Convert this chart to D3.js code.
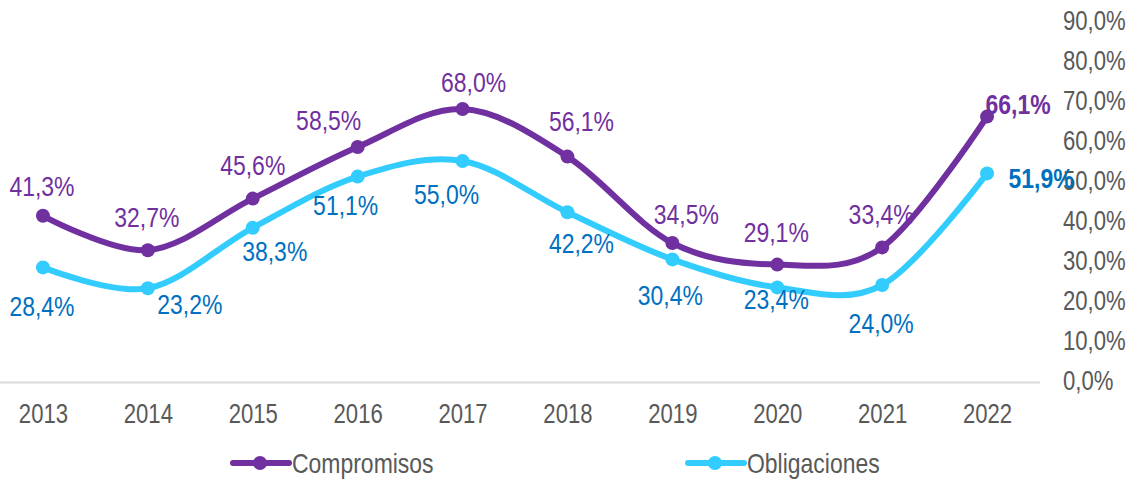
<!DOCTYPE html>
<html>
<head>
<meta charset="utf-8">
<script src="https://d3js.org/d3.v7.min.js"></script>
<style>
  body { margin: 0; background: #fff; }
  svg { display: block; font-family: "Liberation Sans", Arial, sans-serif; }
</style>
</head>
<body>
<svg width="1139" height="482"></svg>
<script>
var years = ["2013", "2014", "2015", "2016", "2017", "2018", "2019", "2020", "2021", "2022"];
var compromisos = [41.3, 32.7, 45.6, 58.5, 68.0, 56.1, 34.5, 29.1, 33.4, 66.1];
var obligaciones = [28.4, 23.2, 38.3, 51.1, 55.0, 42.2, 30.4, 23.4, 24.0, 51.9];
var yTicks = [0, 10, 20, 30, 40, 50, 60, 70, 80, 90];

// label offsets from the point centre (pixels)
var compDx = [-1, -1, 0, -29, 11, 14, 14, -1, -1, 31],
    compDy = [-30, -33, -33, -27, -27, -35, -29, -32, -33, -12];
var oblDx = [-1, 42, 22, -12, -16, 14, -2, -1, -1, 54],
    oblDy = [39, 16, 23, 29, 33, 31, 36, 12, 38, 5];

var purple = "#7030A0", cyan = "#33CCFF", blue = "#0070C0", grey = "#595959";
var narrow = "scale(0.82,1)"; // the original uses a narrow face

var svg = d3.select("svg");
var fmt = function(v) { return v.toFixed(1).replace(".", ",") + "%"; };

var x = d3.scalePoint().domain(years).range([-9.5, 1039.5]).padding(0.5),
    y = d3.scaleLinear().domain([0, 90]).range([381, 21]);

// X axis
var xAxis = svg.append("g")
    .attr("transform", "translate(0,382)")
    .call(d3.axisBottom(x).tickSize(0).tickPadding(22));
xAxis.select(".domain").attr("stroke", "#D9D9D9").attr("stroke-width", 2);
xAxis.selectAll("text")
    .attr("fill", grey)
    .attr("transform", narrow)
    .style("font-size", "27px")
    .style("font-family", "inherit");

// Y axis (right, labels left aligned)
var yAxis = svg.append("g")
    .attr("transform", "translate(1063,0)")
    .call(d3.axisRight(y).tickValues(yTicks).tickSize(0).tickPadding(0)
        .tickFormat(fmt));
yAxis.select(".domain").remove();
yAxis.selectAll("text")
    .attr("fill", grey)
    .attr("transform", narrow)
    .style("font-size", "27px")
    .style("font-family", "inherit");

var line = d3.line()
    .x(function(d, i) { return x(years[i]); })
    .y(function(d) { return y(d); })
    .curve(d3.curveCardinal.tension(0));

function drawSeries(values, color, labelColor, dx, dy) {
    var g = svg.append("g");
    g.append("path")
        .datum(values)
        .attr("d", line)
        .attr("fill", "none")
        .attr("stroke", color)
        .attr("stroke-width", 6)
        .attr("stroke-linecap", "round");
    g.selectAll("circle")
        .data(values)
        .enter().append("circle")
        .attr("cx", function(d, i) { return x(years[i]); })
        .attr("cy", function(d) { return y(d); })
        .attr("r", 7)
        .attr("fill", color);
    g.selectAll("text")
        .data(values)
        .enter().append("text")
        .attr("transform", function(d, i) {
            return "translate(" + (x(years[i]) + dx[i]) + "," + (y(d) + dy[i]) + ")" + narrow;
        })
        .attr("dy", "0.35em")
        .attr("text-anchor", "middle")
        .attr("fill", labelColor)
        .style("font-size", "28px")
        .style("font-weight", function(d, i) { return i === values.length - 1 ? "bold" : "normal"; })
        .text(fmt);
}

drawSeries(obligaciones, cyan, blue, oblDx, oblDy);
drawSeries(compromisos, purple, purple, compDx, compDy);

// Legend
var legend = [
    { name: "Compromisos", color: purple, x: 233 },
    { name: "Obligaciones", color: cyan, x: 688 }
];
var lg = svg.selectAll(".legend")
    .data(legend)
    .enter().append("g")
    .attr("class", "legend")
    .attr("transform", function(d) { return "translate(" + d.x + ",463)"; });
lg.append("line")
    .attr("x1", 0).attr("x2", 56)
    .attr("stroke", function(d) { return d.color; })
    .attr("stroke-width", 6)
    .attr("stroke-linecap", "round");
lg.append("circle")
    .attr("cx", 27).attr("r", 7)
    .attr("fill", function(d) { return d.color; });
lg.append("text")
    .attr("transform", "translate(59,0)" + narrow)
    .attr("dy", "0.35em")
    .attr("fill", grey)
    .style("font-size", "28px")
    .text(function(d) { return d.name; });
</script>
</body>
</html>
